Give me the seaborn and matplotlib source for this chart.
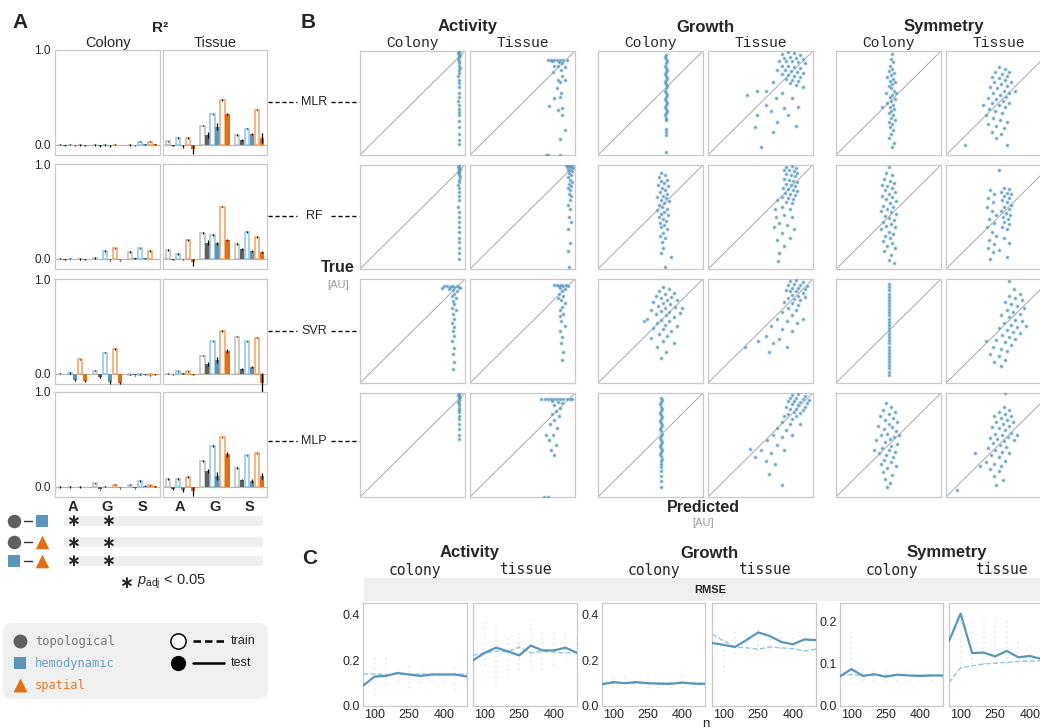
import numpy as np
import pandas as pd
import matplotlib.pyplot as plt
import seaborn as sns
from matplotlib.patches import FancyBboxPatch, Rectangle

W, H = 1040, 728

# ---------------- panel A: R^2 per model / level ----------------
# rows = outcome (A, G, S); columns = topological, hemodynamic, spatial
MLR_COLONY_TRAIN = [[0.0, 0.0, -0.005], [-0.005, -0.005, 0.0], [-0.005, 0.03, 0.03]]
MLR_COLONY_TEST = [[-0.01, -0.005, -0.01], [-0.015, -0.015, -0.005], [-0.008, 0.003, 0.003]]
MLR_COLONY_ERR = [[0.005, 0.005, 0.005], [0.008, 0.008, 0.004], [0.005, 0.004, 0.004]]
MLR_TISSUE_TRAIN = [[0.035, 0.07, 0.07], [0.2, 0.32, 0.47], [0.1, 0.17, 0.37]]
MLR_TISSUE_TEST = [[-0.01, -0.02, -0.05], [0.1, 0.19, 0.32], [0.05, 0.11, 0.07]]
MLR_TISSUE_ERR = [[0.01, 0.02, 0.05], [0.03, 0.04, 0.01], [0.01, 0.01, 0.05]]

RF_COLONY_TRAIN = [[0.0, 0.0, -0.005], [0.005, 0.08, 0.11], [0.07, 0.11, 0.08]]
RF_COLONY_TEST = [[-0.01, -0.005, -0.01], [-0.005, -0.02, -0.02], [0.005, 0.005, -0.005]]
RF_COLONY_ERR = [[0.005, 0.004, 0.005], [0.004, 0.01, 0.008], [0.004, 0.004, 0.004]]
RF_TISSUE_TRAIN = [[0.09, 0.05, 0.195], [0.27, 0.25, 0.55], [0.156, 0.28, 0.23]]
RF_TISSUE_TEST = [[-0.01, -0.005, -0.04], [0.17, 0.16, 0.195], [0.106, 0.08, 0.067]]
RF_TISSUE_ERR = [[0.01, 0.005, 0.035], [0.03, 0.02, 0.01], [0.01, 0.015, 0.01]]

SVR_COLONY_TRAIN = [[0.0, 0.005, 0.15], [0.03, 0.22, 0.26], [-0.01, -0.01, -0.02]]
SVR_COLONY_TEST = [[-0.005, -0.07, -0.08], [-0.04, -0.09, -0.1], [-0.02, -0.01, -0.01]]
SVR_COLONY_ERR = [[0.004, 0.01, 0.01], [0.01, 0.015, 0.015], [0.005, 0.004, 0.004]]
SVR_TISSUE_TRAIN = [[0.0, 0.025, 0.025], [0.19, 0.34, 0.45], [0.39, 0.34, 0.38]]
SVR_TISSUE_TEST = [[-0.005, 0.005, -0.01], [0.105, 0.145, 0.24], [0.05, 0.07, -0.1]]
SVR_TISSUE_ERR = [[0.005, 0.005, 0.01], [0.02, 0.03, 0.02], [0.01, 0.01, 0.11]]

MLP_COLONY_TRAIN = [[-0.005, -0.005, -0.005], [0.035, 0.0, 0.02], [0.02, 0.06, 0.015]]
MLP_COLONY_TEST = [[-0.005, -0.005, -0.005], [-0.03, -0.005, -0.02], [-0.02, 0.01, 0.005]]
MLP_COLONY_ERR = [[0.004, 0.004, 0.004], [0.008, 0.004, 0.006], [0.006, 0.004, 0.004]]
MLP_TISSUE_TRAIN = [[0.08, 0.08, 0.1], [0.27, 0.43, 0.52], [0.195, 0.33, 0.35]]
MLP_TISSUE_TEST = [[-0.03, -0.04, -0.05], [0.165, 0.11, 0.34], [0.075, 0.06, 0.11]]
MLP_TISSUE_ERR = [[0.01, 0.02, 0.05], [0.02, 0.04, 0.03], [0.01, 0.02, 0.03]]

TRAIN_ERR = 0.007
MODELS = ['MLR', 'RF', 'SVR', 'MLP']
OUTCOMES = ['A', 'G', 'S']
FEATURES = ['topological', 'hemodynamic', 'spatial']

# significant outcome pairs (topo-hemo, topo-spatial, hemo-spatial)
SIG_COLONY = [['A', 'G'], ['A', 'G'], ['A', 'G']]
SIG_TISSUE = [[], [], []]

# ---------------- panel B: (predicted, true) scaled to [0, 1] ----------------
MLR_ACT_COL = [(0.94, 1.0), (0.94, 0.99), (0.93, 0.98), (0.94, 0.97), (0.95, 0.96), (0.94, 0.95), (0.94, 0.94),
               (0.93, 0.92), (0.94, 0.9), (0.94, 0.88), (0.94, 0.86), (0.95, 0.84), (0.94, 0.82), (0.94, 0.79),
               (0.93, 0.76), (0.94, 0.72), (0.94, 0.69), (0.94, 0.65), (0.94, 0.6), (0.94, 0.56), (0.93, 0.52),
               (0.94, 0.48), (0.94, 0.44), (0.94, 0.41), (0.94, 0.38), (0.94, 0.33), (0.94, 0.27), (0.94, 0.2),
               (0.94, 0.14), (0.94, 0.11)]
MLR_ACT_TIS = [(0.74, 0.91), (0.77, 0.91), (0.8, 0.91), (0.83, 0.91), (0.86, 0.91), (0.89, 0.91), (0.92, 0.91),
               (0.78, 0.9), (0.85, 0.89), (0.88, 0.88), (0.8, 0.86), (0.84, 0.86), (0.9, 0.85), (0.87, 0.82),
               (0.79, 0.8), (0.88, 0.76), (0.84, 0.72), (0.86, 0.7), (0.9, 0.72), (0.83, 0.64), (0.87, 0.6),
               (0.86, 0.56), (0.8, 0.55), (0.75, 0.47), (0.88, 0.45), (0.84, 0.43), (0.88, 0.38), (0.9, 0.24),
               (0.86, 0.15), (0.72, 0.0), (0.74, 0.0), (0.86, 0.0)]
MLR_GRO_COL = [(0.65, 0.96), (0.64, 0.94), (0.65, 0.92), (0.66, 0.9), (0.65, 0.88), (0.64, 0.86), (0.65, 0.84),
               (0.66, 0.82), (0.65, 0.8), (0.64, 0.78), (0.65, 0.76), (0.66, 0.74), (0.65, 0.72), (0.64, 0.7),
               (0.65, 0.68), (0.66, 0.66), (0.65, 0.64), (0.64, 0.62), (0.65, 0.6), (0.66, 0.58), (0.65, 0.56),
               (0.64, 0.54), (0.65, 0.52), (0.66, 0.5), (0.65, 0.48), (0.64, 0.46), (0.65, 0.44), (0.66, 0.42),
               (0.65, 0.4), (0.64, 0.38), (0.65, 0.36), (0.65, 0.34), (0.65, 0.25), (0.65, 0.22), (0.65, 0.19),
               (0.65, 0.03)]
MLR_GRO_TIS = [(0.7, 0.97), (0.76, 0.99), (0.82, 0.98), (0.88, 0.96), (0.72, 0.93), (0.78, 0.94), (0.84, 0.93),
               (0.9, 0.92), (0.68, 0.9), (0.74, 0.9), (0.8, 0.9), (0.86, 0.89), (0.92, 0.88), (0.7, 0.86),
               (0.76, 0.86), (0.82, 0.85), (0.88, 0.84), (0.66, 0.82), (0.73, 0.82), (0.79, 0.81), (0.85, 0.8),
               (0.9, 0.79), (0.7, 0.78), (0.76, 0.77), (0.82, 0.76), (0.88, 0.75), (0.74, 0.73), (0.8, 0.72),
               (0.86, 0.71), (0.78, 0.69), (0.84, 0.67), (0.37, 0.58), (0.55, 0.62), (0.62, 0.7), (0.47, 0.62),
               (0.65, 0.55), (0.55, 0.48), (0.47, 0.38), (0.6, 0.42), (0.72, 0.45), (0.66, 0.32), (0.8, 0.55),
               (0.86, 0.46), (0.76, 0.38), (0.84, 0.28), (0.45, 0.27), (0.62, 0.22), (0.5, 0.08), (0.9, 0.65),
               (0.7, 0.6)]
MLR_SYM_COL = [(0.53, 0.97), (0.52, 0.92), (0.54, 0.89), (0.51, 0.86), (0.53, 0.83), (0.5, 0.81), (0.55, 0.79),
               (0.52, 0.77), (0.49, 0.75), (0.54, 0.73), (0.51, 0.71), (0.56, 0.7), (0.53, 0.68), (0.5, 0.66),
               (0.52, 0.64), (0.55, 0.62), (0.48, 0.6), (0.53, 0.58), (0.51, 0.56), (0.56, 0.54), (0.52, 0.52),
               (0.49, 0.5), (0.54, 0.48), (0.51, 0.46), (0.55, 0.44), (0.52, 0.42), (0.5, 0.4), (0.54, 0.38),
               (0.52, 0.36), (0.56, 0.34), (0.5, 0.32), (0.53, 0.3), (0.51, 0.27), (0.54, 0.24), (0.52, 0.2),
               (0.5, 0.16), (0.55, 0.12), (0.53, 0.08), (0.44, 0.46), (0.57, 0.6)]
MLR_SYM_TIS = [(0.5, 0.85), (0.56, 0.83), (0.6, 0.8), (0.47, 0.8), (0.53, 0.78), (0.58, 0.76), (0.44, 0.75),
               (0.5, 0.74), (0.56, 0.72), (0.62, 0.7), (0.46, 0.7), (0.52, 0.68), (0.58, 0.66), (0.42, 0.65),
               (0.49, 0.64), (0.55, 0.62), (0.6, 0.6), (0.45, 0.6), (0.51, 0.58), (0.57, 0.56), (0.4, 0.55),
               (0.48, 0.54), (0.54, 0.52), (0.6, 0.5), (0.44, 0.5), (0.5, 0.48), (0.56, 0.46), (0.41, 0.44),
               (0.47, 0.42), (0.53, 0.4), (0.38, 0.38), (0.45, 0.36), (0.51, 0.34), (0.58, 0.32), (0.4, 0.3),
               (0.48, 0.28), (0.55, 0.26), (0.44, 0.22), (0.52, 0.2), (0.48, 0.16), (0.58, 0.1), (0.66, 0.62),
               (0.35, 0.48), (0.18, 0.1)]

RF_ACT_COL = [(0.94, 1.0), (0.94, 0.99), (0.93, 0.98), (0.94, 0.97), (0.95, 0.96), (0.94, 0.95), (0.94, 0.94),
              (0.93, 0.93), (0.94, 0.92), (0.94, 0.9), (0.95, 0.88), (0.94, 0.86), (0.94, 0.84), (0.93, 0.81),
              (0.94, 0.78), (0.94, 0.74), (0.94, 0.7), (0.94, 0.66), (0.93, 0.6), (0.94, 0.55), (0.94, 0.5),
              (0.94, 0.45), (0.94, 0.4), (0.94, 0.36), (0.94, 0.3), (0.94, 0.26), (0.94, 0.2), (0.94, 0.15),
              (0.94, 0.1)]
RF_ACT_TIS = [(0.91, 1.0), (0.93, 1.0), (0.95, 1.0), (0.97, 1.0), (0.92, 0.98), (0.94, 0.98), (0.96, 0.98),
              (0.98, 0.97), (0.93, 0.95), (0.95, 0.95), (0.97, 0.94), (0.94, 0.92), (0.96, 0.9), (0.93, 0.88),
              (0.95, 0.86), (0.97, 0.84), (0.94, 0.82), (0.96, 0.8), (0.93, 0.78), (0.95, 0.76), (0.94, 0.72),
              (0.96, 0.7), (0.95, 0.66), (0.93, 0.62), (0.95, 0.58), (0.94, 0.5), (0.96, 0.45), (0.93, 0.38),
              (0.95, 0.25), (0.93, 0.17), (0.94, 0.02)]
RF_GRO_COL = [(0.6, 0.92), (0.64, 0.9), (0.58, 0.88), (0.66, 0.86), (0.6, 0.85), (0.63, 0.83), (0.57, 0.81),
              (0.67, 0.8), (0.61, 0.78), (0.64, 0.76), (0.59, 0.74), (0.66, 0.72), (0.62, 0.7), (0.56, 0.69),
              (0.65, 0.68), (0.6, 0.66), (0.68, 0.65), (0.63, 0.63), (0.58, 0.62), (0.61, 0.6), (0.66, 0.58),
              (0.56, 0.57), (0.63, 0.55), (0.6, 0.53), (0.67, 0.52), (0.58, 0.5), (0.62, 0.48), (0.65, 0.46),
              (0.59, 0.44), (0.63, 0.42), (0.6, 0.4), (0.66, 0.38), (0.62, 0.35), (0.59, 0.32), (0.64, 0.3),
              (0.61, 0.26), (0.62, 0.2), (0.6, 0.15), (0.7, 0.12), (0.64, 0.02)]
RF_GRO_TIS = [(0.74, 0.98), (0.8, 0.99), (0.84, 0.97), (0.72, 0.95), (0.77, 0.95), (0.82, 0.94), (0.85, 0.92),
              (0.74, 0.91), (0.79, 0.9), (0.83, 0.89), (0.72, 0.87), (0.77, 0.86), (0.81, 0.85), (0.85, 0.84),
              (0.74, 0.82), (0.79, 0.81), (0.83, 0.8), (0.71, 0.78), (0.76, 0.77), (0.81, 0.76), (0.85, 0.75),
              (0.73, 0.73), (0.78, 0.72), (0.83, 0.71), (0.7, 0.69), (0.76, 0.68), (0.81, 0.67), (0.74, 0.64),
              (0.8, 0.63), (0.66, 0.66), (0.64, 0.58), (0.7, 0.6), (0.78, 0.58), (0.65, 0.5), (0.72, 0.52),
              (0.8, 0.5), (0.68, 0.44), (0.75, 0.42), (0.63, 0.4), (0.7, 0.35), (0.78, 0.3), (0.66, 0.28),
              (0.72, 0.22), (0.68, 0.15), (0.67, 0.08), (0.82, 0.38)]
RF_SYM_COL = [(0.5, 0.98), (0.48, 0.92), (0.53, 0.9), (0.46, 0.87), (0.51, 0.85), (0.55, 0.83), (0.44, 0.81),
              (0.49, 0.8), (0.53, 0.78), (0.47, 0.76), (0.56, 0.74), (0.5, 0.72), (0.44, 0.7), (0.53, 0.69),
              (0.48, 0.67), (0.57, 0.65), (0.51, 0.63), (0.45, 0.61), (0.54, 0.6), (0.49, 0.58), (0.43, 0.56),
              (0.52, 0.55), (0.57, 0.53), (0.47, 0.51), (0.5, 0.49), (0.55, 0.47), (0.45, 0.45), (0.52, 0.43),
              (0.48, 0.41), (0.56, 0.4), (0.43, 0.38), (0.5, 0.36), (0.54, 0.34), (0.47, 0.32), (0.51, 0.3),
              (0.45, 0.27), (0.53, 0.25), (0.49, 0.22), (0.56, 0.2), (0.46, 0.17), (0.52, 0.13), (0.5, 0.09),
              (0.55, 0.06)]
RF_SYM_TIS = [(0.55, 0.78), (0.6, 0.77), (0.52, 0.74), (0.58, 0.73), (0.62, 0.72), (0.55, 0.7), (0.6, 0.68),
              (0.53, 0.66), (0.58, 0.64), (0.62, 0.62), (0.55, 0.6), (0.6, 0.58), (0.52, 0.56), (0.57, 0.54),
              (0.61, 0.52), (0.54, 0.5), (0.59, 0.48), (0.55, 0.45), (0.6, 0.43), (0.53, 0.4), (0.58, 0.38),
              (0.42, 0.76), (0.46, 0.72), (0.4, 0.68), (0.45, 0.64), (0.39, 0.6), (0.44, 0.56), (0.48, 0.52),
              (0.41, 0.48), (0.46, 0.44), (0.39, 0.4), (0.44, 0.36), (0.48, 0.32), (0.41, 0.28), (0.46, 0.24),
              (0.4, 0.2), (0.45, 0.16), (0.42, 0.1), (0.55, 0.3), (0.6, 0.25), (0.5, 0.18), (0.58, 0.12),
              (0.5, 0.95)]

SVR_ACT_COL = [(0.8, 0.93), (0.83, 0.93), (0.86, 0.92), (0.88, 0.93), (0.9, 0.92), (0.92, 0.93), (0.94, 0.92),
               (0.85, 0.9), (0.89, 0.89), (0.92, 0.88), (0.9, 0.86), (0.88, 0.84), (0.91, 0.82), (0.89, 0.79),
               (0.9, 0.76), (0.88, 0.72), (0.91, 0.7), (0.89, 0.66), (0.9, 0.62), (0.88, 0.58), (0.9, 0.54),
               (0.89, 0.5), (0.9, 0.45), (0.88, 0.4), (0.9, 0.34), (0.89, 0.28), (0.9, 0.2), (0.89, 0.13),
               (0.78, 0.91), (0.95, 0.91)]
SVR_ACT_TIS = [(0.8, 0.94), (0.83, 0.94), (0.85, 0.93), (0.87, 0.94), (0.89, 0.93), (0.91, 0.94), (0.93, 0.93),
               (0.86, 0.91), (0.9, 0.9), (0.88, 0.88), (0.85, 0.86), (0.89, 0.84), (0.87, 0.8), (0.9, 0.77),
               (0.88, 0.73), (0.86, 0.7), (0.89, 0.66), (0.87, 0.6), (0.9, 0.55), (0.86, 0.5), (0.88, 0.44),
               (0.87, 0.38), (0.89, 0.3), (0.88, 0.22), (0.86, 0.64), (0.84, 0.82)]
SVR_GRO_COL = [(0.62, 0.92), (0.68, 0.9), (0.58, 0.88), (0.72, 0.87), (0.64, 0.86), (0.55, 0.84), (0.7, 0.83),
               (0.6, 0.82), (0.66, 0.8), (0.75, 0.8), (0.52, 0.78), (0.62, 0.77), (0.69, 0.76), (0.57, 0.74),
               (0.73, 0.73), (0.64, 0.72), (0.5, 0.7), (0.6, 0.69), (0.68, 0.68), (0.78, 0.67), (0.55, 0.66),
               (0.65, 0.65), (0.72, 0.63), (0.47, 0.62), (0.6, 0.61), (0.68, 0.6), (0.56, 0.58), (0.64, 0.56),
               (0.75, 0.55), (0.52, 0.53), (0.62, 0.52), (0.7, 0.5), (0.58, 0.47), (0.66, 0.45), (0.5, 0.43),
               (0.62, 0.4), (0.72, 0.38), (0.56, 0.35), (0.65, 0.3), (0.6, 0.24), (0.44, 0.6), (0.8, 0.72)]
SVR_GRO_TIS = [(0.78, 0.98), (0.84, 0.99), (0.9, 0.97), (0.76, 0.94), (0.82, 0.95), (0.88, 0.94), (0.94, 0.93),
               (0.8, 0.91), (0.86, 0.91), (0.92, 0.9), (0.74, 0.89), (0.78, 0.88), (0.84, 0.88), (0.9, 0.87),
               (0.8, 0.85), (0.86, 0.84), (0.92, 0.83), (0.76, 0.82), (0.82, 0.81), (0.88, 0.8), (0.72, 0.78),
               (0.8, 0.77), (0.86, 0.75), (0.76, 0.72), (0.84, 0.7), (0.7, 0.68), (0.8, 0.65), (0.66, 0.62),
               (0.75, 0.6), (0.85, 0.58), (0.6, 0.55), (0.7, 0.52), (0.8, 0.5), (0.55, 0.45), (0.68, 0.42),
               (0.62, 0.38), (0.75, 0.35), (0.48, 0.4), (0.58, 0.3), (0.9, 0.62), (0.35, 0.35)]
SVR_SYM_COL = [(0.5, 0.95), (0.5, 0.92), (0.5, 0.89), (0.5, 0.86), (0.5, 0.83), (0.5, 0.8), (0.5, 0.77),
               (0.5, 0.74), (0.5, 0.71), (0.5, 0.68), (0.5, 0.65), (0.5, 0.62), (0.5, 0.59), (0.5, 0.56),
               (0.5, 0.53), (0.5, 0.5), (0.5, 0.47), (0.5, 0.44), (0.5, 0.41), (0.5, 0.38), (0.5, 0.35),
               (0.5, 0.32), (0.5, 0.29), (0.5, 0.26), (0.5, 0.23), (0.5, 0.2), (0.5, 0.17), (0.5, 0.14),
               (0.5, 0.11), (0.5, 0.08)]
SVR_SYM_TIS = [(0.65, 0.9), (0.7, 0.86), (0.6, 0.84), (0.66, 0.82), (0.72, 0.8), (0.56, 0.78), (0.62, 0.76),
               (0.68, 0.74), (0.74, 0.72), (0.58, 0.7), (0.64, 0.68), (0.7, 0.66), (0.52, 0.65), (0.6, 0.63),
               (0.66, 0.61), (0.72, 0.6), (0.55, 0.58), (0.62, 0.56), (0.68, 0.54), (0.5, 0.53), (0.58, 0.51),
               (0.64, 0.49), (0.7, 0.48), (0.53, 0.46), (0.6, 0.44), (0.66, 0.42), (0.48, 0.41), (0.56, 0.39),
               (0.62, 0.37), (0.45, 0.35), (0.52, 0.33), (0.58, 0.31), (0.42, 0.28), (0.5, 0.26), (0.56, 0.22),
               (0.46, 0.2), (0.52, 0.16), (0.76, 0.55), (0.38, 0.4), (0.6, 0.98)]

MLP_ACT_COL = [(0.94, 1.0), (0.94, 0.99), (0.93, 0.98), (0.94, 0.97), (0.95, 0.96), (0.94, 0.95), (0.94, 0.93),
               (0.93, 0.91), (0.94, 0.9), (0.94, 0.88), (0.94, 0.86), (0.94, 0.84), (0.94, 0.82), (0.94, 0.78),
               (0.94, 0.75), (0.94, 0.7), (0.94, 0.65), (0.94, 0.6), (0.94, 0.56)]
MLP_ACT_TIS = [(0.68, 0.94), (0.71, 0.94), (0.74, 0.94), (0.77, 0.94), (0.8, 0.94), (0.83, 0.94), (0.86, 0.94),
               (0.89, 0.94), (0.92, 0.94), (0.95, 0.94), (0.97, 0.94), (0.78, 0.92), (0.84, 0.91), (0.88, 0.9),
               (0.8, 0.88), (0.86, 0.86), (0.82, 0.83), (0.78, 0.8), (0.85, 0.78), (0.8, 0.74), (0.76, 0.7),
               (0.83, 0.66), (0.79, 0.6), (0.75, 0.55), (0.82, 0.5), (0.77, 0.45), (0.8, 0.4), (0.7, 0.0),
               (0.74, 0.0), (0.72, 0.6)]
MLP_GRO_COL = [(0.6, 0.95), (0.61, 0.93), (0.6, 0.91), (0.59, 0.89), (0.6, 0.87), (0.61, 0.85), (0.6, 0.83),
               (0.59, 0.81), (0.6, 0.79), (0.61, 0.77), (0.6, 0.75), (0.59, 0.73), (0.6, 0.71), (0.61, 0.69),
               (0.6, 0.67), (0.59, 0.65), (0.6, 0.63), (0.61, 0.61), (0.6, 0.59), (0.59, 0.57), (0.6, 0.55),
               (0.61, 0.53), (0.6, 0.51), (0.59, 0.49), (0.6, 0.47), (0.61, 0.45), (0.6, 0.43), (0.59, 0.41),
               (0.6, 0.39), (0.61, 0.37), (0.6, 0.35), (0.6, 0.32), (0.6, 0.29), (0.6, 0.25), (0.6, 0.2),
               (0.6, 0.15), (0.6, 0.1)]
MLP_GRO_TIS = [(0.8, 0.98), (0.86, 0.99), (0.92, 0.97), (0.78, 0.95), (0.84, 0.95), (0.9, 0.94), (0.96, 0.93),
               (0.76, 0.92), (0.82, 0.92), (0.88, 0.91), (0.94, 0.9), (0.8, 0.89), (0.86, 0.88), (0.92, 0.87),
               (0.74, 0.87), (0.78, 0.85), (0.84, 0.85), (0.9, 0.84), (0.82, 0.82), (0.88, 0.81), (0.76, 0.8),
               (0.72, 0.78), (0.84, 0.78), (0.8, 0.75), (0.7, 0.72), (0.78, 0.7), (0.88, 0.7), (0.66, 0.66),
               (0.74, 0.64), (0.62, 0.6), (0.7, 0.58), (0.8, 0.6), (0.56, 0.55), (0.66, 0.5), (0.5, 0.45),
               (0.6, 0.42), (0.72, 0.45), (0.45, 0.38), (0.55, 0.35), (0.64, 0.32), (0.4, 0.46), (0.58, 0.22),
               (0.7, 0.12)]
MLP_SYM_COL = [(0.48, 0.9), (0.52, 0.87), (0.45, 0.84), (0.56, 0.82), (0.5, 0.8), (0.42, 0.78), (0.54, 0.76),
               (0.47, 0.74), (0.58, 0.72), (0.5, 0.7), (0.4, 0.68), (0.53, 0.67), (0.46, 0.65), (0.57, 0.63),
               (0.49, 0.61), (0.43, 0.6), (0.55, 0.58), (0.51, 0.56), (0.38, 0.55), (0.47, 0.53), (0.58, 0.51),
               (0.52, 0.49), (0.44, 0.47), (0.5, 0.45), (0.56, 0.43), (0.41, 0.42), (0.48, 0.4), (0.54, 0.38),
               (0.46, 0.36), (0.52, 0.34), (0.43, 0.32), (0.57, 0.3), (0.49, 0.28), (0.45, 0.24), (0.53, 0.21),
               (0.47, 0.17), (0.51, 0.13), (0.49, 0.1), (0.6, 0.6), (0.36, 0.45)]
MLP_SYM_TIS = [(0.55, 0.87), (0.6, 0.84), (0.5, 0.82), (0.56, 0.8), (0.62, 0.78), (0.46, 0.78), (0.52, 0.76),
               (0.58, 0.74), (0.64, 0.72), (0.48, 0.72), (0.54, 0.7), (0.6, 0.68), (0.44, 0.67), (0.5, 0.66),
               (0.56, 0.64), (0.62, 0.62), (0.47, 0.61), (0.53, 0.6), (0.59, 0.58), (0.42, 0.57), (0.49, 0.56),
               (0.55, 0.54), (0.65, 0.55), (0.45, 0.52), (0.51, 0.5), (0.57, 0.48), (0.4, 0.47), (0.47, 0.45),
               (0.53, 0.43), (0.6, 0.42), (0.43, 0.4), (0.5, 0.38), (0.56, 0.35), (0.38, 0.34), (0.46, 0.32),
               (0.52, 0.3), (0.42, 0.27), (0.5, 0.25), (0.46, 0.2), (0.54, 0.16), (0.48, 0.12), (0.32, 0.3),
               (0.28, 0.42), (0.68, 0.6), (0.56, 1.0), (0.1, 0.07)]

# ---------------- panel C: RMSE vs training size ----------------
N_VALUES = [50, 100, 150, 200, 250, 300, 350, 400, 450, 500]
ACT_COL_TEST = [0.089, 0.129, 0.132, 0.145, 0.138, 0.132, 0.138, 0.138, 0.138, 0.129]
ACT_COL_TRAIN = [0.14, 0.14, 0.138, 0.14, 0.139, 0.14, 0.14, 0.14, 0.14, 0.14]
ACT_TIS_TEST = [0.2, 0.233, 0.256, 0.24, 0.222, 0.265, 0.244, 0.244, 0.256, 0.233]
ACT_TIS_TRAIN = [0.222, 0.233, 0.241, 0.237, 0.259, 0.233, 0.24, 0.237, 0.233, 0.236]
GRO_COL_TEST = [0.095, 0.105, 0.1, 0.105, 0.1, 0.098, 0.097, 0.103, 0.098, 0.097]
GRO_COL_TRAIN = [0.1, 0.1, 0.101, 0.1, 0.099, 0.1, 0.1, 0.1, 0.1, 0.1]
GRO_TIS_TEST = [0.277, 0.268, 0.259, 0.29, 0.323, 0.307, 0.281, 0.271, 0.292, 0.289]
GRO_TIS_TRAIN = [0.316, 0.285, 0.259, 0.255, 0.249, 0.259, 0.255, 0.252, 0.241, 0.25]
SYM_COL_TEST = [0.07, 0.087, 0.071, 0.075, 0.069, 0.074, 0.072, 0.071, 0.072, 0.072]
SYM_COL_TRAIN = [0.073, 0.074, 0.072, 0.073, 0.072, 0.073, 0.072, 0.072, 0.072, 0.072]
SYM_TIS_TEST = [0.153, 0.218, 0.125, 0.126, 0.117, 0.13, 0.115, 0.118, 0.111, 0.11]
SYM_TIS_TRAIN = [0.055, 0.09, 0.095, 0.099, 0.101, 0.103, 0.105, 0.106, 0.107, 0.107]
# spread of individual folds
ACT_COL_LO = [0.06, 0.05, 0.09, 0.11, 0.08, 0.1, 0.11, 0.1, 0.07, 0.11]
ACT_COL_HI = [0.17, 0.22, 0.21, 0.17, 0.18, 0.17, 0.16, 0.17, 0.18, 0.15]
ACT_TIS_LO = [0.14, 0.18, 0.1, 0.13, 0.16, 0.17, 0.16, 0.18, 0.2, 0.2]
ACT_TIS_HI = [0.3, 0.38, 0.37, 0.3, 0.32, 0.39, 0.33, 0.34, 0.33, 0.3]
GRO_COL_LO = [0.07, 0.08, 0.08, 0.08, 0.08, 0.08, 0.08, 0.08, 0.08, 0.08]
GRO_COL_HI = [0.12, 0.13, 0.13, 0.14, 0.13, 0.12, 0.12, 0.13, 0.12, 0.12]
GRO_TIS_LO = [0.22, 0.15, 0.23, 0.24, 0.24, 0.24, 0.25, 0.25, 0.24, 0.25]
GRO_TIS_HI = [0.35, 0.33, 0.33, 0.33, 0.34, 0.33, 0.33, 0.32, 0.33, 0.32]
SYM_COL_LO = [0.06, 0.05, 0.06, 0.06, 0.06, 0.06, 0.06, 0.06, 0.06, 0.06]
SYM_COL_HI = [0.09, 0.18, 0.09, 0.09, 0.09, 0.085, 0.085, 0.085, 0.085, 0.085]
SYM_TIS_LO = [0.05, 0.09, 0.1, 0.1, 0.1, 0.1, 0.1, 0.1, 0.1, 0.1]
SYM_TIS_HI = [0.16, 0.22, 0.2, 0.21, 0.21, 0.2, 0.15, 0.14, 0.14, 0.14]

# ---------------- style ----------------
TEST_COLORS = ['#5f5f5f', '#5b95b7', '#e46e14']
TRAIN_EDGES = ['#bdbdbd', '#8fc3e3', '#f3a264']
LEGEND_TEXT = ['#7a7a7a', '#6d9fc0', '#e07a2e']
MARKERS = ['o', 's', '^']
FRAME = '#c9c9c9'
SCATTER_DARK = '#5a97ba'
SCATTER_LIGHT = '#b6d6e8'

sns.set_style('white')
plt.rcParams['font.family'] = ['Liberation Sans', 'DejaVu Sans']
plt.rcParams['mathtext.fontset'] = 'custom'
plt.rcParams['mathtext.rm'] = 'Liberation Sans'
plt.rcParams['mathtext.it'] = 'Liberation Sans:italic'

fig = plt.figure(figsize=(W / 100, H / 100), dpi=100)
ov = fig.add_axes([0, 0, 1, 1])
ov.set_xlim(0, W)
ov.set_ylim(H, 0)
ov.axis('off')


def px_axes(x0, y0, x1, y1):
    return fig.add_axes([x0 / W, 1 - y1 / H, (x1 - x0) / W, (y1 - y0) / H])


def frame(ax):
    for s in ax.spines.values():
        s.set_visible(True)
        s.set_color(FRAME)
        s.set_linewidth(0.9)


# ================= A =================
A_COLS = [(55, 160), (163, 267)]
A_ROWS = [(50, 155), (164, 269), (279, 384), (392, 497)]
bars = {
    ('MLR', 0): (MLR_COLONY_TRAIN, MLR_COLONY_TEST, MLR_COLONY_ERR),
    ('MLR', 1): (MLR_TISSUE_TRAIN, MLR_TISSUE_TEST, MLR_TISSUE_ERR),
    ('RF', 0): (RF_COLONY_TRAIN, RF_COLONY_TEST, RF_COLONY_ERR),
    ('RF', 1): (RF_TISSUE_TRAIN, RF_TISSUE_TEST, RF_TISSUE_ERR),
    ('SVR', 0): (SVR_COLONY_TRAIN, SVR_COLONY_TEST, SVR_COLONY_ERR),
    ('SVR', 1): (SVR_TISSUE_TRAIN, SVR_TISSUE_TEST, SVR_TISSUE_ERR),
    ('MLP', 0): (MLP_COLONY_TRAIN, MLP_COLONY_TEST, MLP_COLONY_ERR),
    ('MLP', 1): (MLP_TISSUE_TRAIN, MLP_TISSUE_TEST, MLP_TISSUE_ERR),
}
offsets = [-0.357, -0.214, -0.071, 0.071, 0.214, 0.357]
bw = 0.125
for ri, model in enumerate(MODELS):
    for ci in range(2):
        ax = px_axes(A_COLS[ci][0], A_ROWS[ri][0], A_COLS[ci][1], A_ROWS[ri][1])
        train, test, err = bars[(model, ci)]
        ax.axhline(0, color='#b5b5b5', lw=0.8, zorder=0)
        for gi in range(3):
            for fi in range(3):
                xtr = gi + offsets[2 * fi]
                xte = gi + offsets[2 * fi + 1]
                ax.bar(xtr, train[gi][fi], width=bw, facecolor='white',
                       edgecolor=TRAIN_EDGES[fi], linewidth=1.1, zorder=2)
                ax.bar(xte, test[gi][fi], width=bw, color=TEST_COLORS[fi], linewidth=0, zorder=2)
                ax.errorbar(xtr, train[gi][fi], yerr=TRAIN_ERR, color='k', lw=0.8, zorder=3)
                ax.errorbar(xte, test[gi][fi], yerr=err[gi][fi], color='k', lw=0.9, zorder=3,
                            clip_on=False)
        ax.set_xlim(-0.5, 2.5)
        ax.set_ylim(-0.11, 1.0)
        ax.set_yticks([0, 1])
        ax.set_yticklabels(['0.0', '1.0'] if ci == 0 else [])
        ax.tick_params(length=0, labelsize=8.5, pad=3)
        ax.set_xticks(range(3))
        if ri == 3:
            ax.set_xticklabels(OUTCOMES, fontweight='bold', fontsize=10.5)
            ax.tick_params(axis='x', pad=2)
        else:
            ax.set_xticklabels([])
        frame(ax)

ov.text(20, 22, 'A', fontsize=15, fontweight='bold', ha='center', va='center')
ov.text(160, 28, 'R²', fontsize=11, fontweight='bold', ha='center', va='center')
ov.text(108, 43, 'Colony', fontsize=10.5, ha='center', va='center')
ov.text(215, 43, 'Tissue', fontsize=10.5, ha='center', va='center')

# significance rows
sig_y = [521, 542, 561]
pairs = [(0, 1), (0, 2), (1, 2)]
for k, (f1, f2) in enumerate(pairs):
    y = sig_y[k]
    ov.add_patch(FancyBboxPatch((64, y - 5), 199, 10, boxstyle='round,pad=0,rounding_size=2',
                                facecolor='#efefef', edgecolor='none'))
    ov.scatter([14], [y], marker=MARKERS[f1], s=95 if f1 != 1 else 75, color=TEST_COLORS[f1], linewidths=0)
    ov.scatter([42], [y], marker=MARKERS[f2], s=95 if f2 != 1 else 75, color=TEST_COLORS[f2], linewidths=0)
    ov.plot([24, 32], [y, y], color='#333333', lw=1)
    for ci, sig in enumerate([SIG_COLONY[k], SIG_TISSUE[k]]):
        x0, x1 = A_COLS[ci]
        for o in sig:
            gi = OUTCOMES.index(o)
            ov.text(x0 + (gi + 0.5) / 3 * (x1 - x0), y + 1, '∗', fontsize=12, fontweight='bold',
                    ha='center', va='center')
ov.text(126, 584, '∗', fontsize=12, fontweight='bold', ha='center', va='center')
ov.text(137, 582, r'$\it{p}_{\rm adj}$ < 0.05', fontsize=10.5, ha='left', va='center')

# legend box
ov.add_patch(FancyBboxPatch((3, 623), 265, 76, boxstyle='round,pad=0,rounding_size=9',
                            facecolor='#f0f0f0', edgecolor='none'))
for fi, yy in enumerate([641, 663, 685]):
    ov.scatter([20], [yy], marker=MARKERS[fi], s=100 if fi != 1 else 70, color=TEST_COLORS[fi], linewidths=0)
    ov.text(35, yy, FEATURES[fi], family='DejaVu Sans Mono', fontsize=8.7, color=LEGEND_TEXT[fi],
            ha='left', va='center')
ov.scatter([178], [641], marker='o', s=120, facecolor='white', edgecolor='black', linewidths=1.1)
ov.scatter([178], [663], marker='o', s=120, color='black', linewidths=0)
ov.plot([193, 224], [641, 641], color='black', lw=1.8, ls=(0, (3, 1.6)))
ov.plot([193, 224], [663, 663], color='black', lw=1.8)
ov.text(231, 641, 'train', fontsize=9, ha='left', va='center')
ov.text(231, 663, 'test', fontsize=9, ha='left', va='center')

# ================= B =================
B_COLS = [(360, 465), (470, 575), (598, 703), (708, 813), (836, 941), (946, 1051)]
B_ROWS = [(51, 155), (165, 269), (279, 383), (393, 497)]
B_DATA = [
    [MLR_ACT_COL, MLR_ACT_TIS, MLR_GRO_COL, MLR_GRO_TIS, MLR_SYM_COL, MLR_SYM_TIS],
    [RF_ACT_COL, RF_ACT_TIS, RF_GRO_COL, RF_GRO_TIS, RF_SYM_COL, RF_SYM_TIS],
    [SVR_ACT_COL, SVR_ACT_TIS, SVR_GRO_COL, SVR_GRO_TIS, SVR_SYM_COL, SVR_SYM_TIS],
    [MLP_ACT_COL, MLP_ACT_TIS, MLP_GRO_COL, MLP_GRO_TIS, MLP_SYM_COL, MLP_SYM_TIS],
]
for ri in range(4):
    for ci in range(6):
        ax = px_axes(B_COLS[ci][0], B_ROWS[ri][0], B_COLS[ci][1], B_ROWS[ri][1])
        pts = pd.DataFrame(B_DATA[ri][ci], columns=['pred', 'true'])
        ax.plot([0, 1], [0, 1], color='#a8a8a8', lw=0.7, zorder=1)
        sns.scatterplot(data=pts, x='pred', y='true', ax=ax, s=11, color=SCATTER_LIGHT,
                        alpha=0.55, linewidth=0, legend=False, zorder=2)
        sns.scatterplot(data=pts, x='pred', y='true', ax=ax, s=4, color=SCATTER_DARK,
                        alpha=0.85, linewidth=0, legend=False, zorder=3)
        ax.set_xlim(0, 1)
        ax.set_ylim(0, 1)
        ax.set_xticks([])
        ax.set_yticks([])
        ax.set_xlabel('')
        ax.set_ylabel('')
        frame(ax)

ov.text(308, 22, 'B', fontsize=15, fontweight='bold', ha='center', va='center')
for k, name in enumerate(['Activity', 'Growth', 'Symmetry']):
    x0 = B_COLS[2 * k][0]
    x1 = B_COLS[2 * k + 1][1]
    ov.text((x0 + x1) / 2, 27, name, fontsize=12, fontweight='bold', ha='center', va='center')
    for j, lvl in enumerate(['Colony', 'Tissue']):
        c0, c1 = B_COLS[2 * k + j]
        ov.text((c0 + c1) / 2, 43, lvl, family='Liberation Mono', fontsize=10.5, ha='center', va='center')

for model, yy in zip(MODELS, [102, 216, 331, 441]):
    ov.text(314, yy, model, fontsize=9, ha='center', va='center')
    ov.plot([268, 297], [yy, yy], color='black', lw=1, ls=(0, (3, 2)))
    ov.plot([331, 359], [yy, yy], color='black', lw=1, ls=(0, (3, 2)))
ov.text(338, 267, 'True', fontsize=11.5, fontweight='bold', ha='center', va='center')
ov.text(338, 285, '[AU]', fontsize=8, color='#9a9a9a', ha='center', va='center')
ov.text(703, 507, 'Predicted', fontsize=11.5, fontweight='bold', ha='center', va='center')
ov.text(703, 523, '[AU]', fontsize=8, color='#9a9a9a', ha='center', va='center')

# ================= C =================
C_COLS = [(363, 467), (473, 577), (602, 705), (712, 816), (840, 943), (949, 1053)]
C_TOP, C_BOT = 603, 706
C_TEST = [ACT_COL_TEST, ACT_TIS_TEST, GRO_COL_TEST, GRO_TIS_TEST, SYM_COL_TEST, SYM_TIS_TEST]
C_TRAIN = [ACT_COL_TRAIN, ACT_TIS_TRAIN, GRO_COL_TRAIN, GRO_TIS_TRAIN, SYM_COL_TRAIN, SYM_TIS_TRAIN]
C_LO = [ACT_COL_LO, ACT_TIS_LO, GRO_COL_LO, GRO_TIS_LO, SYM_COL_LO, SYM_TIS_LO]
C_HI = [ACT_COL_HI, ACT_TIS_HI, GRO_COL_HI, GRO_TIS_HI, SYM_COL_HI, SYM_TIS_HI]
C_YLIM = [0.452, 0.452, 0.452, 0.452, 0.243, 0.243]
C_YTICKS = [[0, 0.2, 0.4], [0, 0.2, 0.4], [0, 0.2, 0.4], [0, 0.2, 0.4], [0, 0.1, 0.2], [0, 0.1, 0.2]]

ov.add_patch(Rectangle((364, 578), W - 364, 23, facecolor='#efefef', edgecolor='none'))
ov.text(710, 590, 'RMSE', fontsize=8, fontweight='bold', ha='center', va='center')

for ci in range(6):
    ax = px_axes(C_COLS[ci][0], C_TOP, C_COLS[ci][1], C_BOT)
    ax.vlines(N_VALUES, C_LO[ci], C_HI[ci], colors='#d3e2ec', linestyles=(0, (0.8, 2.6)), lw=1.1, zorder=1)
    sns.lineplot(x=N_VALUES, y=C_TRAIN[ci], ax=ax, color='#94c5e2', lw=1.0, linestyle='--', zorder=2)
    sns.lineplot(x=N_VALUES, y=C_TEST[ci], ax=ax, color='#5b95b8', lw=1.6, zorder=3)
    ax.set_xlim(50, 500)
    ax.set_ylim(0, C_YLIM[ci])
    ax.set_xticks([100, 250, 400])
    ax.set_yticks(C_YTICKS[ci])
    if ci % 2 == 0:
        ax.set_yticklabels(['%.1f' % v for v in C_YTICKS[ci]])
    else:
        ax.set_yticklabels([])
    ax.tick_params(length=0, labelsize=9, pad=2)
    frame(ax)

ov.text(310, 558, 'C', fontsize=15, fontweight='bold', ha='center', va='center')
for k, name in enumerate(['Activity', 'Growth', 'Symmetry']):
    x0 = C_COLS[2 * k][0]
    x1 = C_COLS[2 * k + 1][1]
    ov.text((x0 + x1) / 2, 553, name, fontsize=12, fontweight='bold', ha='center', va='center')
    for j, lvl in enumerate(['colony', 'tissue']):
        c0, c1 = C_COLS[2 * k + j]
        ov.text((c0 + c1) / 2, 570, lvl, family='DejaVu Sans Mono', fontsize=10.5, ha='center', va='center')
ov.text(706, 724, 'n', fontsize=9.5, ha='center', va='center')

fig.savefig('out.png', dpi=100)
